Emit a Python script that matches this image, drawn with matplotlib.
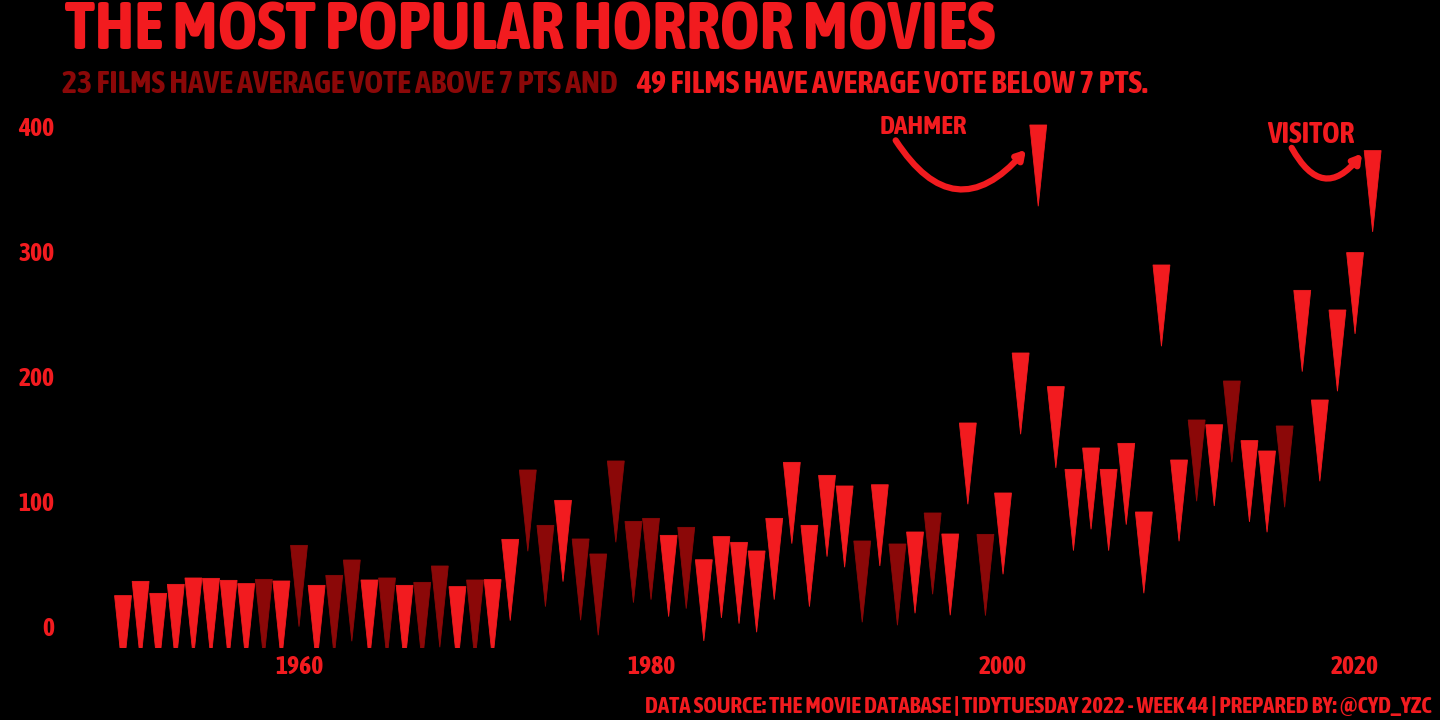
import os
import matplotlib
matplotlib.use('Agg')
import matplotlib.pyplot as plt
from matplotlib import font_manager as fm

# popularity of the most popular horror movie of each year (top of each drip)
years = list(range(1950, 2022))
popularity = [24.3, 35.7, 26.1, 33.3, 38.4, 38.1, 36.5, 33.9, 37.3, 36.0,
              64.5, 32.5, 40.5, 52.8, 36.8, 38.4, 32.5, 34.9, 48.0, 31.5,
              36.8, 37.1, 69.3, 124.8, 80.5, 100.5, 69.6, 57.6, 132.0, 83.7,
              86.1, 72.5, 78.9, 53.0, 71.5, 66.9, 60.0, 86.1, 130.9, 80.5,
              120.5, 112.0, 68.0, 113.0, 65.6, 75.2, 90.4, 73.6, 162.4, 73.3,
              106.4, 218.4, 400.8, 191.5, 125.3, 142.4, 125.3, 146.1, 91.2, 288.8,
              132.8, 164.8, 161.0, 196.0, 148.3, 140.0, 160.0, 268.5, 180.8, 252.8,
              298.7, 380.3]
# years whose film has an average vote above 7
above_7 = [1958, 1960, 1962, 1963, 1965, 1967, 1968, 1970, 1973, 1974, 1976,
           1977, 1978, 1979, 1980, 1982, 1992, 1994, 1996, 1999, 2011, 2013, 2016]

x_ticks = [1960, 1980, 2000, 2020]
y_ticks = [0, 100, 200, 300, 400]

RED = '#F21B1F'
DARK = '#8B0808'

# look for a narrow bold face, the reference font is very condensed
def pick_font():
    found = []
    for f in fm.fontManager.ttflist:
        fn = os.path.basename(f.fname).lower()
        if ('condensed' in fn or 'narrow' in fn) and 'bold' in fn \
                and 'italic' not in fn and 'oblique' not in fn and 'extra' not in fn:
            rank = 0 if 'semi' not in fn else 1
            found.append((rank, fn, f.fname))
    if found:
        found.sort()
        return fm.FontProperties(fname=found[0][2])
    return fm.FontProperties(family='DejaVu Sans', weight='bold')

fp = pick_font()

fig = plt.figure(figsize=(14.4, 7.2), dpi=100, facecolor='black')
ax = fig.add_axes([60/1440, 72/720, 1360/1440, 538/720], facecolor='black')

w = 0.96   # width of a drip, in years
h = 65     # length of a drip
for yr, v in zip(years, popularity):
    c = DARK if yr in above_7 else RED
    ax.fill([yr - w/2, yr + w/2, yr], [v, v, v - h], color=c, lw=0.6, ec=c)

ax.set_xlim(1946.42, 2023.69)
ax.set_ylim(-17.6, 412.8)
ax.set_xticks(x_ticks)
ax.set_yticks(y_ticks)
ax.tick_params(length=0, colors=RED, pad=4)
for lab in ax.get_xticklabels() + ax.get_yticklabels():
    lab.set_fontproperties(fp)
    lab.set_fontsize(18.5)
for s in ax.spines.values():
    s.set_visible(False)

# annotations
dah = ax.text(1995.45, 400, 'DAHMER', color=RED, fontproperties=fp, fontsize=18, ha='center', va='center')
ax.annotate('', xy=(2001.3, 381), xytext=(1993.9, 388.5),
            arrowprops=dict(arrowstyle='-|>,head_length=0.5,head_width=0.3', color=RED, lw=4.5,
                            connectionstyle='arc3,rad=0.66', shrinkA=0, shrinkB=0))
vis = ax.text(2017.5, 393, 'VISITOR', color=RED, fontproperties=fp, fontsize=18, ha='center', va='center')
ax.annotate('', xy=(2020.4, 378), xytext=(2016.4, 382.5),
            arrowprops=dict(arrowstyle='-|>,head_length=0.5,head_width=0.3', color=RED, lw=4.5,
                            connectionstyle='arc3,rad=0.75', shrinkA=0, shrinkB=0))

# titles
title = fig.text(65/1440, 1 - 50/720, 'THE MOST POPULAR HORROR MOVIES', color=RED,
                 fontproperties=fp, fontsize=44, va='baseline', ha='left')
sub1 = fig.text(62/1440, 1 - 93/720, '23 FILMS HAVE AVERAGE VOTE ABOVE 7 PTS AND', color=DARK,
                fontproperties=fp, fontsize=22, va='baseline', ha='left')
sub2 = fig.text(636/1440, 1 - 93/720, '49 FILMS HAVE AVERAGE VOTE BELOW 7 PTS.', color=RED,
                fontproperties=fp, fontsize=22, va='baseline', ha='left')
cap = fig.text(1432/1440, 1 - 713/720,
               'DATA SOURCE: THE MOVIE DATABASE | TIDYTUESDAY 2022 - WEEK 44 | PREPARED BY: @CYD_YZC',
               color=RED, fontproperties=fp, fontsize=16, va='baseline', ha='right')

# scale the texts to the widths they have in the reference
fig.canvas.draw()
r = fig.canvas.get_renderer()
for t, target in [(title, 930), (sub1, 555), (sub2, 509), (cap, 790), (dah, 87), (vis, 87)]:
    cur = t.get_window_extent(r).width
    t.set_fontsize(t.get_fontsize() * target / cur)

fig.savefig('out.png', dpi=100, facecolor='black')
